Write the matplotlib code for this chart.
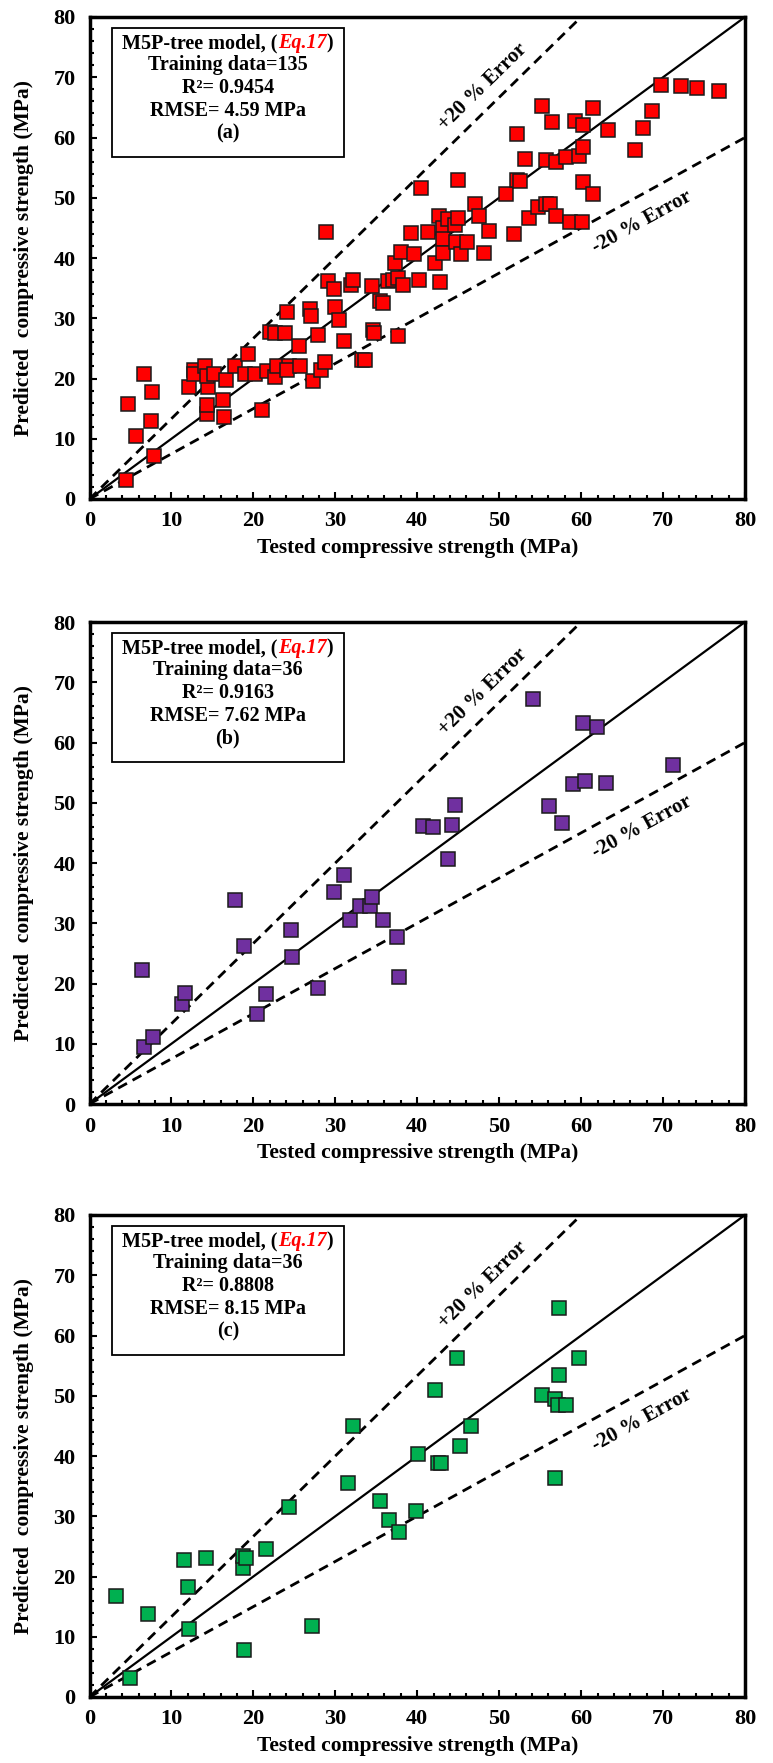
import numpy as np
import matplotlib
matplotlib.use("Agg")
import matplotlib.pyplot as plt
from matplotlib.patches import Rectangle
from matplotlib.offsetbox import TextArea, HPacker, AnchoredOffsetbox
from matplotlib.ticker import MultipleLocator

plt.rcParams['font.family'] = ['Liberation Serif', 'DejaVu Serif']
plt.rcParams['font.weight'] = 'bold'

# ---- data: tested vs predicted compressive strength (MPa) ----
train_tested = [4.4, 4.7, 5.7, 6.6, 7.6, 7.5, 7.9, 12.1, 12.8, 12.7,
                14.1, 14.3, 14.3, 14.5, 14.3, 15.2, 16.3, 16.4, 16.7, 17.8,
                19.0, 19.3, 20.2, 21.0, 21.7, 22.0, 22.7, 22.7, 22.9, 23.8,
                24.1, 24.3, 24.1, 25.6, 25.7, 26.9, 27.0, 27.3, 27.9, 28.2,
                28.7, 28.9, 29.1, 30.0, 29.8, 30.4, 31.1, 31.9, 32.2, 33.3,
                33.6, 34.5, 34.6, 34.7, 35.4, 35.8, 36.4, 37.1, 37.3, 37.6,
                37.7, 38.0, 38.2, 39.6, 39.2, 40.2, 40.4, 41.3, 42.2, 42.8,
                42.7, 43.1, 43.2, 43.2, 43.7, 44.6, 44.7, 45.0, 45.0, 45.3,
                46.1, 47.0, 47.5, 48.2, 48.8, 50.8, 51.8, 52.2, 52.2, 52.5,
                53.1, 53.6, 54.7, 55.2, 55.7, 55.7, 56.2, 56.5, 56.9, 56.9,
                58.2, 58.7, 59.2, 59.8, 60.1, 60.2, 60.2, 60.2, 61.4, 61.4,
                63.3, 66.6, 67.5, 68.7, 69.7, 72.2, 74.1, 76.8]
train_pred = [3.1, 15.8, 10.4, 20.8, 17.7, 12.9, 7.1, 18.6, 21.4, 20.8,
              22.0, 14.1, 15.6, 18.6, 20.4, 20.8, 16.4, 13.6, 19.8, 22.0,
              20.8, 24.1, 20.8, 14.7, 21.2, 27.7, 20.2, 27.5, 22.1, 27.5,
              31.0, 22.0, 21.4, 25.4, 22.0, 31.6, 30.4, 19.6, 27.2, 21.4,
              22.7, 44.3, 36.1, 31.9, 34.8, 29.7, 26.3, 35.6, 36.3, 23.1,
              23.1, 35.3, 28.1, 27.5, 32.9, 32.5, 36.2, 36.4, 39.1, 36.7,
              27.1, 41.0, 35.5, 40.7, 44.1, 36.4, 51.6, 44.3, 39.1, 36.0,
              46.9, 45.0, 43.2, 40.8, 46.5, 45.5, 42.7, 46.6, 52.9, 40.7,
              42.6, 49.0, 46.9, 40.9, 44.5, 50.7, 44.0, 60.5, 53.0, 52.8,
              56.4, 46.6, 48.4, 65.3, 56.3, 49.0, 49.0, 62.5, 56.0, 46.9,
              56.7, 45.9, 62.7, 57.0, 45.9, 62.1, 58.5, 52.6, 50.6, 64.9,
              61.3, 57.9, 61.6, 64.4, 68.7, 68.6, 68.2, 67.7]

val_tested = [6.4, 6.6, 7.7, 11.3, 11.6, 17.8, 18.8, 20.5, 21.5, 24.6,
              24.7, 27.9, 29.8, 31.1, 31.8, 33.0, 34.2, 34.5, 35.8, 37.5,
              37.8, 40.7, 41.9, 43.7, 44.3, 44.6, 54.1, 56.1, 57.7, 59.0,
              60.2, 60.5, 61.9, 63.0, 71.2]
val_pred = [22.2, 9.4, 11.1, 16.6, 18.4, 33.8, 26.2, 14.9, 18.2, 28.8,
            24.4, 19.2, 35.2, 38.0, 30.5, 32.9, 32.9, 34.3, 30.6, 27.8,
            21.1, 46.1, 45.9, 40.6, 46.3, 49.6, 67.2, 49.4, 46.6, 53.1,
            63.2, 53.6, 62.5, 53.2, 56.3]

test_tested = [3.2, 4.9, 7.1, 11.5, 12.0, 12.2, 14.2, 18.7, 18.7, 19.1,
               18.9, 21.5, 24.4, 27.2, 31.5, 32.1, 35.5, 36.6, 37.8, 39.8,
               40.1, 42.2, 42.5, 42.9, 44.9, 45.2, 46.5, 55.2, 56.8, 56.8,
               57.2, 57.3, 57.3, 58.2, 59.8]
test_pred = [16.8, 3.2, 13.8, 22.7, 18.3, 11.3, 23.0, 21.4, 23.4, 23.0,
             7.8, 24.6, 31.5, 11.8, 35.5, 44.9, 32.6, 29.3, 27.4, 30.9,
             40.4, 50.9, 38.8, 38.9, 56.2, 41.6, 44.9, 50.2, 49.5, 36.3,
             48.5, 64.6, 53.5, 48.5, 56.2]

panels = [
    dict(x=train_tested, y=train_pred, color='#ff0000', n='135',
         r2='0.9454', rmse='4.59', tag='(a)'),
    dict(x=val_tested, y=val_pred, color='#7030a0', n='36',
         r2='0.9163', rmse='7.62', tag='(b)'),
    dict(x=test_tested, y=test_pred, color='#00b050', n='36',
         r2='0.8808', rmse='8.15', tag='(c)'),
]

W, H = 773, 1763
fig = plt.figure(figsize=(W / 100, H / 100), dpi=100)

left_px, right_px = 89.5, 745.0
tops_px = [17.0, 622.0, 1215.0]
panel_h_px = 482.0

FS_TICK = 16
FS_LABEL = 15.5
FS_BOX = 14.5
FS_ERR = 15

xs = np.linspace(0, 80, 2)

for p, top in zip(panels, tops_px):
    ax = fig.add_axes([left_px / W, 1 - (top + panel_h_px) / H,
                       (right_px - left_px) / W, panel_h_px / H])
    ax.set_xlim(0, 80)
    ax.set_ylim(0, 80)

    # reference lines: 1:1 and +/-20 % bands
    ax.plot(xs, xs, color='black', lw=1.6, zorder=2)
    ax.plot(xs * 0.75, xs, color='black', lw=2.0, dashes=(3.6, 2.3), zorder=2)
    ax.plot(xs, xs * 0.75, color='black', lw=2.0, dashes=(3.6, 2.3), zorder=2)

    ax.plot(p['x'], p['y'], linestyle='none', marker='s', markersize=10,
            markerfacecolor=p['color'], markeredgecolor='#1a1a1a',
            markeredgewidth=1.1, zorder=3)

    ax.text(48.0, 68.4, '+20 % Error', fontsize=FS_ERR, fontweight='bold',
            rotation=np.degrees(np.arctan(1 / 0.75)), transform_rotates_text=True,
            rotation_mode='anchor', ha='center', va='center')
    ax.text(67.4, 46.0, '-20 % Error', fontsize=FS_ERR, fontweight='bold',
            rotation=np.degrees(np.arctan(0.75)), transform_rotates_text=True,
            rotation_mode='anchor', ha='center', va='center')

    # ticks and frame
    ax.xaxis.set_major_locator(MultipleLocator(10))
    ax.yaxis.set_major_locator(MultipleLocator(10))
    ax.xaxis.set_minor_locator(MultipleLocator(2))
    ax.yaxis.set_minor_locator(MultipleLocator(2))
    ax.tick_params(which='both', direction='in', top=False, right=False,
                   width=1.5, colors='black')
    ax.tick_params(which='major', length=5, labelsize=FS_TICK)
    ax.tick_params(axis='x', which='major', pad=9)
    ax.tick_params(axis='y', which='major', pad=10)
    ax.tick_params(which='minor', length=3)
    for lab in ax.get_xticklabels() + ax.get_yticklabels():
        lab.set_fontweight('bold')
    for sp in ax.spines.values():
        sp.set_linewidth(2.5)
        sp.set_color('black')

    ax.set_xlabel('Tested compressive strength (MPa)', fontsize=FS_LABEL,
                  fontweight='bold', labelpad=5)
    ax.set_ylabel('Predicted  compressive strength (MPa)', fontsize=FS_LABEL,
                  fontweight='bold', labelpad=14)

    # statistics box
    bx0, bx1, by0, by1 = 0.034, 0.388, 0.7095, 0.977
    ax.add_patch(Rectangle((bx0, by0), bx1 - bx0, by1 - by0,
                           transform=ax.transAxes, fill=True, facecolor='white',
                           edgecolor='black', lw=1.3, zorder=4))
    cx = (bx0 + bx1) / 2
    title_parts = HPacker(children=[
        TextArea('M5P-tree model, (', textprops=dict(fontsize=FS_BOX,
                 fontweight='bold', color='black')),
        TextArea('Eq.17', textprops=dict(fontsize=FS_BOX, fontweight='bold',
                 fontstyle='italic', color='#ff0000')),
        TextArea(')', textprops=dict(fontsize=FS_BOX, fontweight='bold',
                 color='black')),
    ], align='baseline', pad=0, sep=0)
    ab = AnchoredOffsetbox(loc='center', child=title_parts, frameon=False,
                           pad=0, borderpad=0, bbox_to_anchor=(cx, 0.946),
                           bbox_transform=ax.transAxes)
    ab.set_zorder(5)
    ax.add_artist(ab)
    lines = ['Training data=' + p['n'], 'R\u00b2= ' + p['r2'],
             'RMSE= ' + p['rmse'] + ' MPa', p['tag']]
    for txt, yy in zip(lines, [0.900, 0.852, 0.806, 0.758]):
        ax.text(cx, yy, txt, transform=ax.transAxes, ha='center', va='center',
                fontsize=FS_BOX, fontweight='bold', zorder=5)

fig.savefig('out.png', dpi=100)
